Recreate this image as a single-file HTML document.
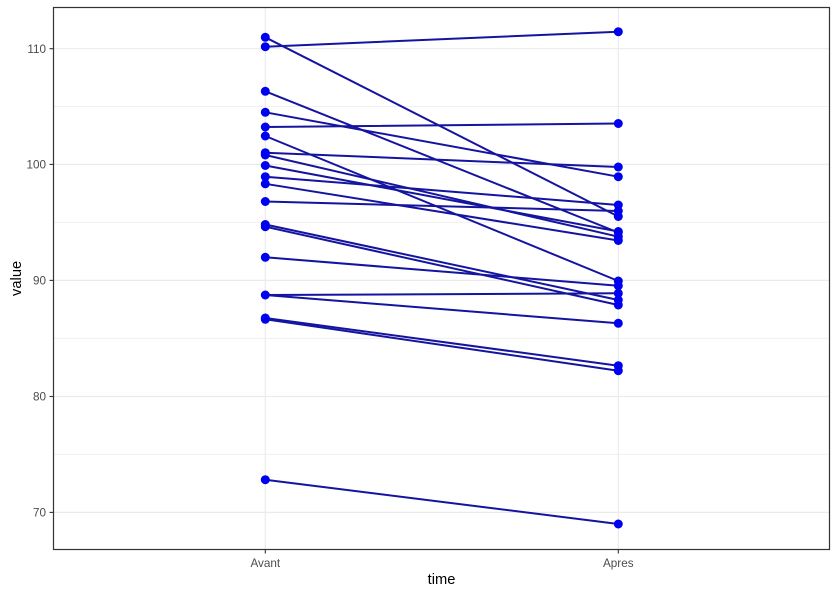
<!DOCTYPE html>
<html><head><meta charset="utf-8"><style>
html,body{margin:0;padding:0;background:#fff;}
svg{display:block;}
text{font-family:"Liberation Sans",Arial,sans-serif;}
</style></head><body>
<svg width="837" height="594" viewBox="0 0 837 594" xmlns="http://www.w3.org/2000/svg">
<rect x="0" y="0" width="837" height="594" fill="#fff"/>
<!-- minor grid -->
<g stroke="#f0f0f0" stroke-width="1">
<line x1="53.5" y1="106.5" x2="829.5" y2="106.5"/>
<line x1="53.5" y1="222.4" x2="829.5" y2="222.4"/>
<line x1="53.5" y1="338.4" x2="829.5" y2="338.4"/>
<line x1="53.5" y1="454.4" x2="829.5" y2="454.4"/>
</g>
<!-- major grid -->
<g stroke="#ebebeb" stroke-width="1.2">
<line x1="53.5" y1="48.7" x2="829.5" y2="48.7"/>
<line x1="53.5" y1="164.4" x2="829.5" y2="164.4"/>
<line x1="53.5" y1="280.4" x2="829.5" y2="280.4"/>
<line x1="53.5" y1="396.5" x2="829.5" y2="396.5"/>
<line x1="53.5" y1="512.4" x2="829.5" y2="512.4"/>
<line x1="265.3" y1="7.5" x2="265.3" y2="549.3"/>
<line x1="618.3" y1="7.5" x2="618.3" y2="549.3"/>
</g>
<!-- lines -->
<g stroke="#1414a0" stroke-width="2" fill="none" stroke-linecap="round">
<line x1="265.3" y1="37.3" x2="618.3" y2="216.5"/>
<line x1="265.3" y1="46.7" x2="618.3" y2="31.7"/>
<line x1="265.3" y1="91.3" x2="618.3" y2="232.5"/>
<line x1="265.3" y1="112.3" x2="618.3" y2="176.7"/>
<line x1="265.3" y1="127" x2="618.3" y2="123.5"/>
<line x1="265.3" y1="136" x2="618.3" y2="281"/>
<line x1="265.3" y1="152.7" x2="618.3" y2="167"/>
<line x1="265.3" y1="155" x2="618.3" y2="236.7"/>
<line x1="265.3" y1="165.5" x2="618.3" y2="231.5"/>
<line x1="265.3" y1="176.7" x2="618.3" y2="205"/>
<line x1="265.3" y1="183.8" x2="618.3" y2="240.5"/>
<line x1="265.3" y1="201.5" x2="618.3" y2="211"/>
<line x1="265.3" y1="224.5" x2="618.3" y2="300"/>
<line x1="265.3" y1="226.7" x2="618.3" y2="305"/>
<line x1="265.3" y1="257.3" x2="618.3" y2="285.7"/>
<line x1="265.3" y1="295" x2="618.3" y2="293.3"/>
<line x1="265.3" y1="295" x2="618.3" y2="323.3"/>
<line x1="265.3" y1="318" x2="618.3" y2="365.7"/>
<line x1="265.3" y1="319.3" x2="618.3" y2="370.7"/>
<line x1="265.3" y1="479.7" x2="618.3" y2="524"/>
</g>
<!-- points -->
<g fill="#0000f0">
<circle cx="265.3" cy="37.3" r="4.5"/><circle cx="618.3" cy="216.5" r="4.5"/>
<circle cx="265.3" cy="46.7" r="4.5"/><circle cx="618.3" cy="31.7" r="4.5"/>
<circle cx="265.3" cy="91.3" r="4.5"/><circle cx="618.3" cy="232.5" r="4.5"/>
<circle cx="265.3" cy="112.3" r="4.5"/><circle cx="618.3" cy="176.7" r="4.5"/>
<circle cx="265.3" cy="127" r="4.5"/><circle cx="618.3" cy="123.5" r="4.5"/>
<circle cx="265.3" cy="136" r="4.5"/><circle cx="618.3" cy="281" r="4.5"/>
<circle cx="265.3" cy="152.7" r="4.5"/><circle cx="618.3" cy="167" r="4.5"/>
<circle cx="265.3" cy="155" r="4.5"/><circle cx="618.3" cy="236.7" r="4.5"/>
<circle cx="265.3" cy="165.5" r="4.5"/><circle cx="618.3" cy="231.5" r="4.5"/>
<circle cx="265.3" cy="176.7" r="4.5"/><circle cx="618.3" cy="205" r="4.5"/>
<circle cx="265.3" cy="183.8" r="4.5"/><circle cx="618.3" cy="240.5" r="4.5"/>
<circle cx="265.3" cy="201.5" r="4.5"/><circle cx="618.3" cy="211" r="4.5"/>
<circle cx="265.3" cy="224.5" r="4.5"/><circle cx="618.3" cy="300" r="4.5"/>
<circle cx="265.3" cy="226.7" r="4.5"/><circle cx="618.3" cy="305" r="4.5"/>
<circle cx="265.3" cy="257.3" r="4.5"/><circle cx="618.3" cy="285.7" r="4.5"/>
<circle cx="265.3" cy="295" r="4.5"/><circle cx="618.3" cy="293.3" r="4.5"/>
<circle cx="618.3" cy="323.3" r="4.5"/>
<circle cx="265.3" cy="318" r="4.5"/><circle cx="618.3" cy="365.7" r="4.5"/>
<circle cx="265.3" cy="319.3" r="4.5"/><circle cx="618.3" cy="370.7" r="4.5"/>
<circle cx="265.3" cy="479.7" r="4.5"/><circle cx="618.3" cy="524" r="4.5"/>
</g>
<!-- panel border -->
<rect x="53.5" y="7.5" width="776" height="542" fill="none" stroke="#333" stroke-width="1.2"/>
<!-- ticks -->
<g stroke="#333" stroke-width="1.1">
<line x1="49.5" y1="48.7" x2="53.5" y2="48.7"/>
<line x1="49.5" y1="164.4" x2="53.5" y2="164.4"/>
<line x1="49.5" y1="280.4" x2="53.5" y2="280.4"/>
<line x1="49.5" y1="396.5" x2="53.5" y2="396.5"/>
<line x1="49.5" y1="512.4" x2="53.5" y2="512.4"/>
<line x1="265.3" y1="549.5" x2="265.3" y2="553.5"/>
<line x1="618.3" y1="549.5" x2="618.3" y2="553.5"/>
</g>
<g fill="#4d4d4d" font-size="11.7" text-anchor="end">
<text x="46" y="52.9">110</text>
<text x="46" y="168.6">100</text>
<text x="46" y="284.6">90</text>
<text x="46" y="400.7">80</text>
<text x="46" y="516.6">70</text>
</g>
<g fill="#4d4d4d" font-size="11.7" text-anchor="middle">
<text x="265.3" y="567">Avant</text>
<text x="618.3" y="567">Apres</text>
</g>
<text x="441.5" y="584" font-size="14.7" text-anchor="middle" fill="#000">time</text>
<text transform="translate(21,278.4) rotate(-90)" font-size="14.7" text-anchor="middle" fill="#000">value</text>
</svg>
</body></html>
